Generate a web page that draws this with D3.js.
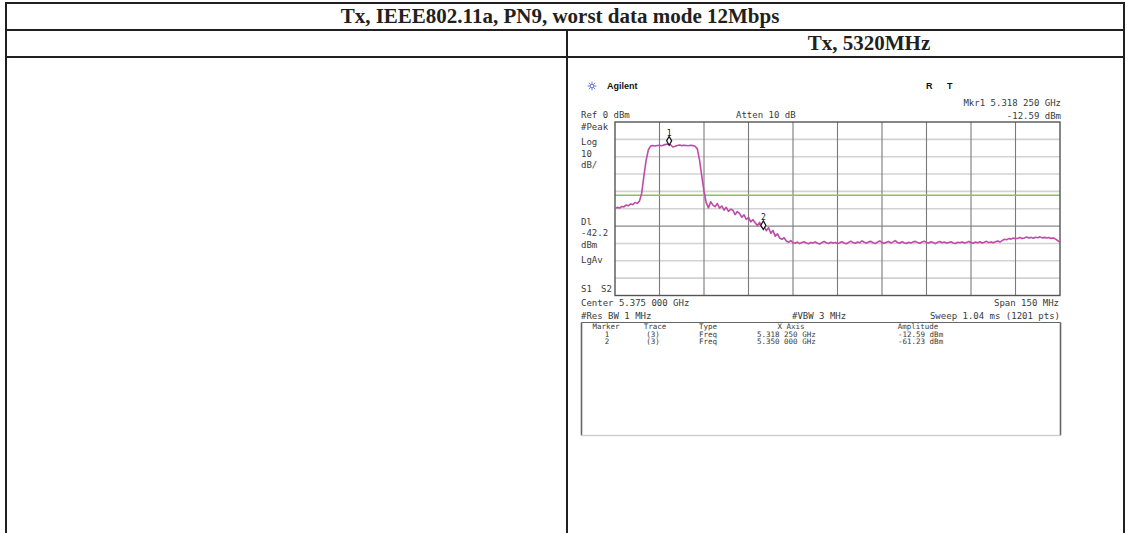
<!DOCTYPE html>
<html>
<head>
<meta charset="utf-8">
<script src="https://cdn.jsdelivr.net/npm/d3@7/dist/d3.min.js"></script>
<style>
  html, body { margin: 0; padding: 0; background: #ffffff; }
  svg { display: block; }
  .mono { font-family: "DejaVu Sans Mono", "Liberation Mono", monospace; fill: #3a3a3a; }
</style>
</head>
<body>
<svg id="chart" width="1128" height="533"></svg>
<script>
// ---- Table captions ----
const tableTitle = "Tx, IEEE802.11a, PN9, worst data mode 12Mbps";
const plotTitle = "Tx, 5320MHz";

// ---- Analyzer settings ----
const centerMHz = 5375;
const spanMHz = 150;
const refLevel = 0;          // dBm
const dbPerDiv = 10;
const divisions = 10;
const displayLine = -42.2;   // dBm

// ---- Measured trace levels (dBm), evenly spaced across the span ----
const traceLevels = [
  -49.8, -49.2, -49.6, -48.7, -48.9, -47.8, -48.3, -47.2, -47.6, -46.4,
  -46.9, -45.6, -41.0, -31.0, -22.0, -16.0, -13.9, -13.6, -13.8, -13.5,
  -13.4, -13.7, -13.2, -12.9, -12.7, -13.1, -14.4, -14.0, -13.5, -13.3,
  -13.6, -13.4, -13.5, -13.7, -13.4, -13.6, -14.0, -15.5, -22.0, -31.0,
  -40.0, -46.5, -49.5, -46.0, -47.9, -48.8, -47.0, -49.6, -48.4, -50.8,
  -49.2, -51.5, -50.3, -50.9, -53.4, -51.6, -52.8, -54.9, -53.5, -56.2,
  -55.0, -57.6, -56.3, -58.1, -59.7, -57.9, -60.6, -59.8, -62.7, -60.9,
  -64.1, -62.5, -65.8, -64.4, -66.9, -67.6, -66.7, -68.6, -69.3, -68.4,
  -69.6, -69.9, -69.2, -70.1, -69.5, -69.0, -69.8, -70.2, -69.4, -69.7,
  -69.1, -69.9, -70.3, -69.5, -68.9, -69.6, -70.0, -69.3, -69.8, -69.4,
  -70.1, -69.6, -69.0, -69.7, -70.2, -69.4, -68.7, -69.5, -69.9, -69.2,
  -69.6, -68.5, -69.3, -69.8, -69.1, -68.8, -69.6, -70.0, -69.2, -68.6,
  -69.4, -69.9, -69.3, -68.9, -69.7, -69.1, -68.4, -69.5, -69.8, -69.0,
  -69.6, -70.0, -69.3, -69.7, -69.1, -68.8, -69.5, -69.9, -69.2, -68.7,
  -69.4, -69.8, -69.0, -69.5, -70.1, -69.3, -68.9, -69.6, -69.2, -69.8,
  -69.4, -69.0, -69.7, -70.0, -69.3, -69.6, -69.1, -69.8, -69.4, -68.9,
  -69.5, -69.9, -69.2, -69.6, -69.0, -69.7, -69.3, -68.8, -69.5, -69.1,
  -69.6, -69.0, -68.6, -69.2, -68.4, -67.6, -67.9, -67.2, -67.5, -66.9,
  -67.3, -67.0, -66.6, -67.2, -66.8, -66.3, -66.9, -66.5, -67.0, -66.4,
  -66.7, -66.2, -66.8, -66.5, -66.9, -66.6, -67.1, -66.8, -67.5, -68.4,
  -69.3
];

// ---- Markers ----
const markerIds = ["1", "2"];
const markerTraces = ["(3)", "(3)"];
const markerTypes = ["Freq", "Freq"];
const markerFreqs = [5318.25, 5350.0];       // MHz
const markerLevels = [-12.59, -61.23];       // dBm
const markerFreqText = ["5.318 250 GHz", "5.350 000 GHz"];
const markerAmpText = ["-12.59 dBm", "-61.23 dBm"];

const svg = d3.select("#chart");
const ink = "#231f20";

// ---- Table frame ----
const frame = svg.append("g").attr("stroke", ink).attr("stroke-width", 2).attr("fill", "none");
frame.append("line").attr("x1", 5).attr("x2", 1125).attr("y1", 3).attr("y2", 3);
frame.append("line").attr("x1", 5).attr("x2", 1125).attr("y1", 30).attr("y2", 30);
frame.append("line").attr("x1", 5).attr("x2", 1125).attr("y1", 57).attr("y2", 57);
frame.append("line").attr("x1", 6).attr("x2", 6).attr("y1", 2).attr("y2", 533);
frame.append("line").attr("x1", 1124).attr("x2", 1124).attr("y1", 2).attr("y2", 533);
frame.append("line").attr("x1", 567).attr("x2", 567).attr("y1", 30).attr("y2", 533);

svg.append("text")
  .attr("x", 560).attr("y", 23)
  .attr("text-anchor", "middle")
  .attr("font-family", "'Liberation Serif', 'Times New Roman', serif")
  .attr("font-weight", "bold").attr("font-size", 21)
  .attr("fill", ink)
  .text(tableTitle);

svg.append("text")
  .attr("x", 869).attr("y", 50)
  .attr("text-anchor", "middle")
  .attr("font-family", "'Liberation Serif', 'Times New Roman', serif")
  .attr("font-weight", "bold").attr("font-size", 21)
  .attr("fill", ink)
  .text(plotTitle);

// ---- Spectrum plot ----
const plot = { left: 615, right: 1060, top: 122, bottom: 295.5 };
const x = d3.scaleLinear()
  .domain([centerMHz - spanMHz / 2, centerMHz + spanMHz / 2])
  .range([plot.left, plot.right]);
const y = d3.scaleLinear()
  .domain([refLevel, refLevel - dbPerDiv * divisions])
  .range([plot.top, plot.bottom]);

const xGrid = d3.range(1, divisions).map(i => x.domain()[0] + i * spanMHz / divisions);
const yGrid = d3.range(1, divisions).map(i => refLevel - i * dbPerDiv);

const grid = svg.append("g");
grid.selectAll("line.h").data(yGrid).join("line")
  .attr("class", "h")
  .attr("x1", plot.left).attr("x2", plot.right)
  .attr("y1", d => y(d)).attr("y2", d => y(d))
  .attr("stroke", d => d === -60 ? "#8a8a8a" : "#d2d2d2")
  .attr("stroke-width", d => d === -60 ? 1.2 : 1.6);
grid.selectAll("line.v").data(xGrid).join("line")
  .attr("class", "v")
  .attr("x1", d => x(d)).attr("x2", d => x(d))
  .attr("y1", plot.top).attr("y2", plot.bottom)
  .attr("stroke", "#7a7a7a").attr("stroke-width", 1.1);

// display line
svg.append("line")
  .attr("x1", plot.left).attr("x2", plot.right)
  .attr("y1", y(displayLine)).attr("y2", y(displayLine))
  .attr("stroke", "#86c650").attr("stroke-width", 1.6);

svg.append("rect")
  .attr("x", plot.left).attr("y", plot.top)
  .attr("width", plot.right - plot.left).attr("height", plot.bottom - plot.top)
  .attr("fill", "none").attr("stroke", "#555").attr("stroke-width", 1.4);

// trace
const stepMHz = spanMHz / (traceLevels.length - 1);
const traceLine = d3.line()
  .x((d, i) => x(x.domain()[0] + i * stepMHz))
  .y(d => y(d));
svg.append("path")
  .datum(traceLevels)
  .attr("d", traceLine)
  .attr("fill", "none")
  .attr("stroke", "#c04aa8")
  .attr("stroke-width", 1.6)
  .attr("stroke-linejoin", "round");

// markers
const diamond = d3.symbol().type(d3.symbolDiamond).size(22);
const mk = svg.append("g").selectAll("g").data(markerIds).join("g")
  .attr("transform", (d, i) => `translate(${x(markerFreqs[i])},${y(markerLevels[i]) - 3})`);
mk.append("path").attr("d", diamond)
  .attr("fill", "#fff").attr("stroke", "#111").attr("stroke-width", 1.2);
mk.append("text")
  .attr("class", "mono")
  .attr("y", -5).attr("text-anchor", "middle")
  .attr("font-size", 8).style("fill", "#111")
  .text(d => d);

// ---- Instrument annotations ----
function label(txt, px, py, anchor, size) {
  return svg.append("text").attr("class", "mono")
    .attr("x", px).attr("y", py)
    .attr("text-anchor", anchor || "start")
    .attr("font-size", size || 9)
    .text(txt);
}

// Agilent logo
const logo = svg.append("g").attr("transform", "translate(592,86)")
  .attr("stroke", "#6d7fd6").attr("stroke-width", 1);
[0, 45, 90, 135].forEach(a => {
  const r = Math.PI * a / 180;
  logo.append("line")
    .attr("x1", -4.5 * Math.cos(r)).attr("y1", -4.5 * Math.sin(r))
    .attr("x2", 4.5 * Math.cos(r)).attr("y2", 4.5 * Math.sin(r));
});
logo.append("circle").attr("r", 1.8).attr("fill", "#fff");

svg.append("text").attr("x", 607).attr("y", 89)
  .attr("font-family", "'Liberation Sans', Arial, sans-serif")
  .attr("font-weight", "bold").attr("font-size", 9).attr("fill", "#111")
  .text("Agilent");
svg.append("text").attr("x", 926).attr("y", 89)
  .attr("font-family", "'Liberation Sans', Arial, sans-serif")
  .attr("font-weight", "bold").attr("font-size", 9).attr("fill", "#111")
  .text("R");
svg.append("text").attr("x", 947).attr("y", 89)
  .attr("font-family", "'Liberation Sans', Arial, sans-serif")
  .attr("font-weight", "bold").attr("font-size", 9).attr("fill", "#111")
  .text("T");

label("Mkr1 5.318 250 GHz", 1061, 106, "end");
label("-12.59 dBm", 1061, 119, "end");
label("Ref 0 dBm", 581, 118);
label("Atten 10 dB", 736, 118);
label("#Peak", 581, 130);
label("Log", 581, 145);
label("10", 581, 157);
label("dB/", 581, 168);
label("Dl", 581, 225);
label("-42.2", 581, 236);
label("dBm", 581, 248);
label("LgAv", 581, 263);
label("S1", 581, 292);
label("S2", 601, 292);
label("Center 5.375 000 GHz", 581, 306);
label("Span 150 MHz", 1059, 306, "end");
label("#Res BW 1 MHz", 581, 319);
label("#VBW 3 MHz", 792, 319);
label("Sweep 1.04 ms (1201 pts)", 1060, 319, "end");

// ---- Marker table ----
const box = { left: 581.5, top: 322.5, right: 1060.5, bottom: 435.5 };
svg.append("line").attr("x1", box.left).attr("x2", box.left).attr("y1", box.top).attr("y2", box.bottom)
  .attr("stroke", "#666").attr("stroke-width", 1.6);
svg.append("line").attr("x1", box.right).attr("x2", box.right).attr("y1", box.top).attr("y2", box.bottom)
  .attr("stroke", "#666").attr("stroke-width", 1.6);
svg.append("line").attr("x1", box.left).attr("x2", box.right).attr("y1", box.top).attr("y2", box.top)
  .attr("stroke", "#666").attr("stroke-width", 1.2);
svg.append("line").attr("x1", box.left).attr("x2", box.right).attr("y1", box.bottom).attr("y2", box.bottom)
  .attr("stroke", "#cfcfcf").attr("stroke-width", 1.6);

const ts = 7.5;
label("Marker", 606, 328.5, "middle", ts);
label("Trace", 655, 328.5, "middle", ts);
label("Type", 699, 328.5, "start", ts);
label("X Axis", 791, 328.5, "middle", ts);
label("Amplitude", 918, 328.5, "middle", ts);
markerIds.forEach((id, i) => {
  const by = 336.5 + i * 7;
  label(id, 607, by, "middle", ts);
  label(markerTraces[i], 653, by, "middle", ts);
  label(markerTypes[i], 699, by, "start", ts);
  label(markerFreqText[i], 757, by, "start", ts);
  label(markerAmpText[i], 898, by, "start", ts);
});
</script>
</body>
</html>
